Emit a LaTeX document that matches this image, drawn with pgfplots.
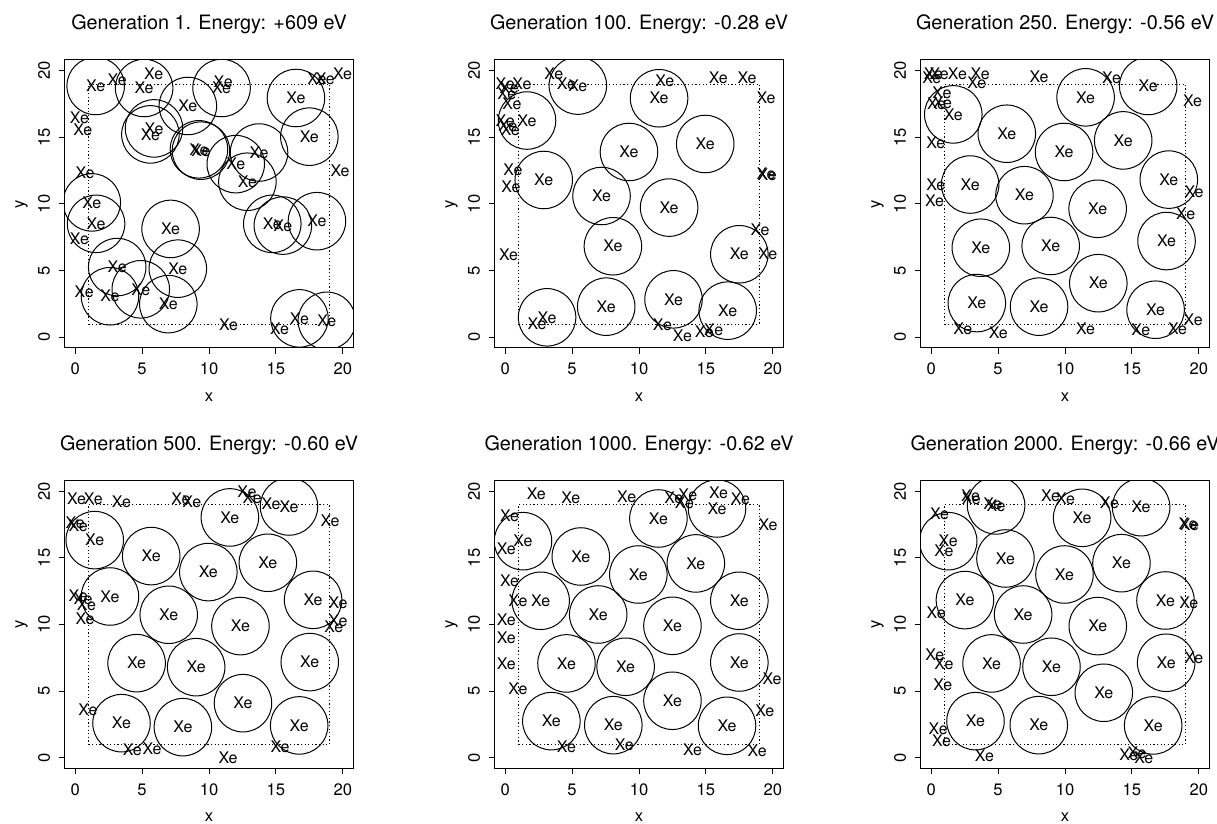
\documentclass[border=0pt]{standalone}
\usepackage{fontspec}
\setmainfont{TeX Gyre Heros}
\usepackage{pgfplots}
\pgfplotsset{compat=1.18}
\newcommand{\xefont}{\fontsize{8}{9.6}\selectfont}
\newcommand{\tkfont}{\fontsize{8.3}{10}\selectfont}
\pgfplotsset{
  panel/.style={
    scale only axis, width=144.5pt, height=144pt,
    xmin=-0.8, xmax=20.8, ymin=-0.8, ymax=20.8,
    xtick={0,5,...,20}, ytick={0,5,...,20},
    tick align=outside, tick pos=left,
    major tick length=3pt,
    clip marker paths=true,
    axis line style={line width=0.5pt},
    every tick/.style={black, line width=0.5pt},
    tick label style={font=\tkfont},
    /pgf/number format/assume math mode=true,
    xticklabel style={anchor=center, yshift=-7.5pt},
    yticklabel style={anchor=center, xshift=-7.25pt, rotate=90},
    xlabel={x}, ylabel={y},
    every axis x label/.style={at={(axis description cs:0.5,0)}, anchor=center, yshift=-24.5pt, font=\tkfont},
    every axis y label/.style={at={(axis description cs:0,0.5)}, xshift=-21.5pt, rotate=90, anchor=center, font=\tkfont},
    every axis title/.style={at={(axis description cs:0.5,1)}, anchor=base, yshift=15pt, font=\fontsize{9.9}{12}\selectfont, inner sep=0pt},
    anchor=south west,
  },
  xe/.style={only marks, mark=text, text mark={Xe}, text mark as node=true, text mark style={font=\xefont, inner sep=0pt, anchor=center}},
  ring/.style={only marks, mark=o, mark size=14.38pt, mark options={line width=0.5pt, black}},
  cell/.style={black, line width=0.4pt, dash pattern=on 0.6pt off 1.2pt, mark=none},
}
\begin{document}
\begin{tikzpicture}
\path[use as bounding box] (0,0) rectangle (608.5pt,412pt);

% Panel 1
\begin{axis}[panel, at={(32.25pt,238pt)}, title={Generation 1. Energy: +609 eV}]
\addplot[cell] coordinates {(1,1) (19,1) (19,19) (1,19) (1,1)};
\addplot[ring] coordinates {(1.53,18.85) (5.15,18.7) (8.42,17.35) (10.94,18.7) (16.5,17.95) (17.5,15.05) (5.89,15.67) (5.62,15.22) (9.25,14.1) (9.4,14.0) (13.74,13.86) (12.0,12.99) (12.87,11.67) (1.24,10.12) (1.56,8.51) (7.13,8.13) (14.73,8.51) (15.52,8.38) (18.07,8.71) (3.14,5.27) (7.67,5.15) (2.6,3.08) (4.9,3.6) (6.96,2.49) (16.76,1.42) (18.81,1.24)};
\addplot[xe] coordinates {(1.53,18.85) (5.15,18.7) (8.42,17.35) (10.94,18.7) (16.5,17.95) (17.5,15.05) (5.89,15.67) (5.62,15.22) (9.25,14.1) (9.4,14.0) (13.74,13.86) (12.0,12.99) (12.87,11.67) (1.24,10.12) (1.56,8.51) (7.13,8.13) (14.73,8.51) (15.52,8.38) (18.07,8.71) (3.14,5.27) (7.67,5.15) (2.6,3.08) (4.9,3.6) (6.96,2.49) (16.76,1.42) (18.81,1.24)
(3.14,19.33) (5.87,19.8) (11.06,19.2) (18.07,19.4) (18.69,19.4) (19.98,19.75) (0.32,16.47) (0.57,15.57) (19.8,12.49) (0.74,12.31) (0.32,7.41) (0.67,3.41) (11.46,0.92) (15.27,0.62)};
\end{axis}

% Panel 2
\begin{axis}[panel, at={(247.25pt,238pt)}, title={Generation 100. Energy: -0.28 eV}]
\addplot[cell] coordinates {(1,1) (19,1) (19,19) (1,19) (1,1)};
\addplot[ring] coordinates {(5.43,18.88) (11.5,17.93) (1.63,16.26) (9.25,13.9) (14.95,14.5) (2.88,11.8) (7.2,10.6) (12.25,9.73) (8.05,6.83) (17.5,6.23) (7.55,2.3) (12.58,2.85) (16.63,2.0) (3.13,1.5)};
\addplot[xe] coordinates {(5.43,18.88) (11.5,17.93) (1.63,16.26) (9.25,13.9) (14.95,14.5) (2.88,11.8) (7.2,10.6) (12.25,9.73) (8.05,6.83) (17.5,6.23) (7.55,2.3) (12.58,2.85) (16.63,2.0) (3.13,1.5)
(0.0,19.0) (0.3,18.7) (1.25,19.05) (0.12,18.25) (0.5,17.55) (0.0,16.25) (0.38,15.56) (0.2,15.9) (3.63,19.8) (4.58,19.05) (11.93,19.25) (15.93,19.45) (18.08,19.5) (19.5,17.96) (0.58,12.57) (0.43,11.32) (19.5,12.27) (19.58,12.22) (19.05,8.03) (19.63,6.23) (0.25,6.16) (2.38,0.98) (11.75,0.92) (13.25,0.1) (14.88,0.42) (15.58,0.6)};
\end{axis}

% Panel 3
\begin{axis}[panel, at={(460.25pt,238pt)}, title={Generation 250. Energy: -0.56 eV}]
\addplot[cell] coordinates {(1,1) (19,1) (19,19) (1,19) (1,1)};
\addplot[ring] coordinates {(16.22,18.85) (11.54,18.0) (1.65,16.72) (5.65,15.27) (9.93,13.9) (14.35,14.77) (2.91,11.46) (6.97,10.66) (17.76,11.83) (12.44,9.64) (3.71,6.72) (8.93,6.85) (17.59,7.22) (12.49,4.06) (3.41,2.57) (8.06,2.3) (16.77,2.07)};
\addplot[xe] coordinates {(16.22,18.85) (11.54,18.0) (1.65,16.72) (5.65,15.27) (9.93,13.9) (14.35,14.77) (2.91,11.46) (6.97,10.66) (17.76,11.83) (12.44,9.64) (3.71,6.72) (8.93,6.85) (17.59,7.22) (12.49,4.06) (3.41,2.57) (8.06,2.3) (16.77,2.07)
(0.17,19.8) (0.05,19.43) (0.6,19.75) (1.96,19.76) (3.66,19.76) (3.41,19.06) (0.8,18.36) (0.4,17.5) (0.85,17.6) (0.35,14.6) (8.06,19.55) (13.48,19.5) (19.53,17.76) (0.35,11.41) (0.25,10.21) (19.65,10.88) (19.02,9.29) (2.36,0.62) (5.02,0.32) (11.54,0.67) (15.67,0.55) (18.41,0.67) (19.58,1.32)};
\end{axis}

% Panel 4
\begin{axis}[panel, at={(32.25pt,27.75pt)}, title={Generation 500. Energy: -0.60 eV}]
\addplot[cell] coordinates {(1,1) (19,1) (19,19) (1,19) (1,1)};
\addplot[ring] coordinates {(15.98,18.85) (11.56,18.03) (1.46,16.33) (5.68,15.13) (9.95,13.93) (14.4,14.63) (2.6,12.1) (6.99,10.73) (17.78,11.85) (12.35,9.88) (4.59,7.1) (9.04,6.8) (17.53,7.18) (12.54,4.1) (3.46,2.6) (8.05,2.3) (16.74,2.43)};
\addplot[xe] coordinates {(15.98,18.85) (11.56,18.03) (1.46,16.33) (5.68,15.13) (9.95,13.93) (14.4,14.63) (2.6,12.1) (6.99,10.73) (17.78,11.85) (12.35,9.88) (4.59,7.1) (9.04,6.8) (17.53,7.18) (12.54,4.1) (3.46,2.6) (8.05,2.3) (16.74,2.43)
(0.1,19.45) (1.35,19.43) (3.46,19.18) (7.9,19.43) (8.72,19.23) (12.84,19.93) (13.23,19.48) (14.64,19.05) (19.05,17.8) (0.0,17.6) (0.22,17.38) (0.22,12.13) (0.59,11.96) (0.84,11.45) (0.74,10.4) (19.65,11.63) (19.65,10.3) (19.33,9.8) (0.95,3.6) (4.27,0.63) (5.75,0.68) (15.31,0.8) (11.43,-0.03)};
\end{axis}

% Panel 5
\begin{axis}[panel, at={(247.25pt,27.75pt)}, title={Generation 1000. Energy: -0.62 eV}]
\addplot[cell] coordinates {(1,1) (19,1) (19,19) (1,19) (1,1)};
\addplot[ring] coordinates {(15.83,18.7) (11.45,17.95) (1.33,16.25) (5.65,15.1) (9.95,13.75) (14.25,14.58) (2.65,11.78) (6.95,10.75) (17.5,11.78) (12.5,9.9) (4.58,7.08) (9.0,6.83) (17.5,7.15) (12.5,4.28) (3.45,2.75) (8.08,2.45) (16.58,2.4)};
\addplot[xe] coordinates {(15.83,18.7) (11.45,17.95) (1.33,16.25) (5.65,15.1) (9.95,13.75) (14.25,14.58) (2.65,11.78) (6.95,10.75) (17.5,11.78) (12.5,9.9) (4.58,7.08) (9.0,6.83) (17.5,7.15) (12.5,4.28) (3.45,2.75) (8.08,2.45) (16.58,2.4)
(2.33,19.83) (4.9,19.5) (9.08,19.58) (12.6,19.48) (13.65,19.73) (13.4,19.1) (15.95,19.88) (17.58,19.4) (19.65,17.45) (0.33,18.15) (0.08,15.65) (0.33,13.25) (0.95,11.75) (0.08,10.33) (0.08,9.0) (0.08,7.08) (19.95,5.95) (19.4,3.53) (0.95,5.2) (4.58,0.83) (8.9,0.95) (14.0,0.63) (18.83,0.53)};
\end{axis}

% Panel 6
\begin{axis}[panel, at={(460.25pt,27.75pt)}, title={Generation 2000. Energy: -0.66 eV}]
\addplot[cell] coordinates {(1,1) (19,1) (19,19) (1,19) (1,1)};
\addplot[ring] coordinates {(4.85,18.93) (11.28,18.0) (15.69,18.8) (1.27,16.25) (5.55,14.95) (9.96,13.75) (14.22,14.6) (2.52,11.83) (6.87,10.75) (17.51,11.8) (12.45,9.88) (4.51,7.08) (8.99,6.83) (17.56,7.13) (12.9,4.88) (3.31,2.75) (8.04,2.45) (16.59,2.43)};
\addplot[xe] coordinates {(4.85,18.93) (11.28,18.0) (15.69,18.8) (1.27,16.25) (5.55,14.95) (9.96,13.75) (14.22,14.6) (2.52,11.83) (6.87,10.75) (17.51,11.8) (12.45,9.88) (4.51,7.08) (8.99,6.83) (17.56,7.13) (12.9,4.88) (3.31,2.75) (8.04,2.45) (16.59,2.43)
(2.94,19.66) (3.0,19.4) (4.6,19.05) (8.92,19.63) (10.04,19.45) (13.32,19.13) (19.2,17.55) (19.3,17.45) (0.62,18.3) (0.95,15.5) (0.37,10.88) (19.25,11.63) (0.27,7.75) (0.95,7.05) (0.87,5.5) (19.63,7.5) (0.52,2.2) (0.77,1.25) (3.98,0.13) (14.77,0.25) (15.39,0.38) (15.89,0.0)};
\end{axis}
\end{tikzpicture}
\end{document}
